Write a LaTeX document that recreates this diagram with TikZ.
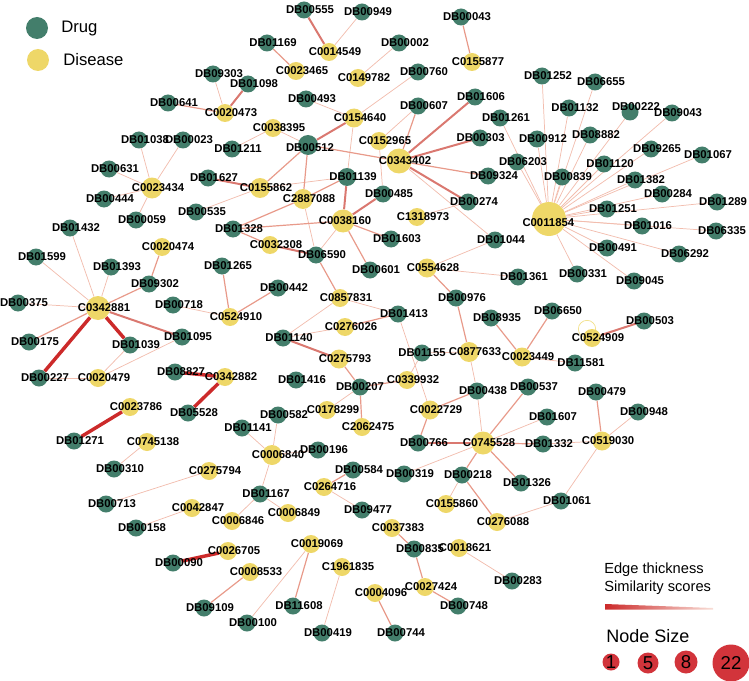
\documentclass[tikz,border=0pt]{standalone}
\usepackage{fontspec}
\setmainfont{Liberation Sans}
\setsansfont{Liberation Sans}
\usetikzlibrary{positioning,backgrounds}
\definecolor{drugc}{HTML}{437E6B}
\definecolor{disc}{HTML}{EED768}
\definecolor{edgelt}{HTML}{F2BDAE}
\definecolor{edgemd}{HTML}{E89A8A}
\definecolor{edgedk}{HTML}{DA7870}
\definecolor{edgered}{HTML}{CC2A2A}
\definecolor{sizec}{HTML}{D2343B}
\begin{document}
\begin{tikzpicture}[x=0.75pt, y=-0.75pt,
  drug/.style={circle, fill=drugc, inner sep=0pt, minimum size=12.75pt},
  dis/.style={circle, fill=disc, inner sep=0pt, minimum size=13.5pt},
  lbl/.style={font=\sffamily\bfseries\fontsize{8.5}{9}\selectfont, inner sep=0pt, xshift=4.5pt},
  legtxt/.style={font=\sffamily\fontsize{12.5}{14}\selectfont, inner sep=0pt, anchor=west},
  keytxt/.style={font=\sffamily\fontsize{11}{13}\selectfont, inner sep=0pt, anchor=west},
  sizenode/.style={circle, fill=sizec, inner sep=0pt, font=\sffamily\fontsize{14}{14}\selectfont},
  sim1/.style={draw=edgelt, line width=0.55pt},
  sim2/.style={draw=edgemd, line width=0.9pt},
  sim3/.style={draw=edgedk, line width=1.5pt},
  sim4/.style={draw=edgered, line width=2.6pt},
  selfloop/.style={draw=disc!80, line width=0.5pt}]
\useasboundingbox (0,0) rectangle (749,681);
% legend
\node[drug, minimum size=16.5pt] (legdrug) at (37,28) {};
\node[legtxt] (legdrugtxt) at (61,28) {Drug};
\node[dis, minimum size=16.5pt] (legdis) at (38,60) {};
\node[legtxt] (legdistxt) at (63,60) {Disease};
% drugs
\node[drug, label={[lbl]center:DB09303}] (DB09303) at (213,74) {};
\node[drug, label={[lbl]center:DB00641}] (DB00641) at (168,103) {};
\node[drug, label={[lbl]center:DB01038}] (DB01038) at (139,140) {};
\node[drug, label={[lbl]center:DB00023}] (DB00023) at (183,140) {};
\node[drug, label={[lbl]center:DB00631}] (DB00631) at (109,169) {};
\node[drug, label={[lbl]center:DB00444}] (DB00444) at (104,199) {};
\node[drug, label={[lbl]center:DB00059}] (DB00059) at (136,220) {};
\node[drug, label={[lbl]center:DB01098}] (DB01098) at (248,84) {};
\node[drug, label={[lbl]center:DB01211}] (DB01211) at (232,149) {};
\node[drug, label={[lbl]center:DB01627}] (DB01627) at (208,178) {};
\node[drug, label={[lbl]center:DB00535}] (DB00535) at (196,212) {};
\node[drug, label={[lbl]center:DB01432}] (DB01432) at (70,228) {};
\node[drug, label={[lbl]center:DB01328}] (DB01328) at (233,229) {};
\node[drug, label={[lbl]center:DB00555}] (DB00555) at (304,10) {};
\node[drug, label={[lbl]center:DB00949}] (DB00949) at (362,12) {};
\node[drug, label={[lbl]center:DB00043}] (DB00043) at (461,17) {};
\node[drug, label={[lbl]center:DB01169}] (DB01169) at (267,43) {};
\node[drug, label={[lbl]center:DB00002}] (DB00002) at (399,43) {};
\node[drug, label={[lbl]center:DB00760}] (DB00760) at (418,72) {};
\node[drug, label={[lbl]center:DB00493}] (DB00493) at (306,99) {};
\node[drug, label={[lbl]center:DB00607}] (DB00607) at (418,106) {};
\node[drug, label={[lbl]center:DB01606}] (DB01606) at (475,97) {};
\node[drug, minimum size=15pt, label={[lbl, xshift=-3pt, yshift=-2pt]center:DB00512}] (DB00512) at (308,145) {};
\node[drug, label={[lbl, xshift=-4pt]center:DB00303}] (DB00303) at (480,138) {};
\node[drug, label={[lbl]center:DB09324}] (DB09324) at (488,176) {};
\node[drug, minimum size=13.5pt, label={[lbl]center:DB01139}] (DB01139) at (347,177) {};
\node[drug, label={[lbl]center:DB00485}] (DB00485) at (383,194) {};
\node[drug, label={[lbl]center:DB00274}] (DB00274) at (468,202) {};
\node[drug, label={[lbl]center:DB06590}] (DB06590) at (316,255) {};
\node[drug, label={[lbl]center:DB00601}] (DB00601) at (370,270) {};
\node[drug, label={[lbl]center:DB01603}] (DB01603) at (391,239) {};
\node[drug, label={[lbl]center:DB01265}] (DB01265) at (222,266) {};
\node[drug, label={[lbl]center:DB00442}] (DB00442) at (278,288) {};
\node[drug, label={[lbl]center:DB01599}] (DB01599) at (36,257) {};
\node[drug, label={[lbl]center:DB01393}] (DB01393) at (111,267) {};
\node[drug, label={[lbl]center:DB09302}] (DB09302) at (149,284) {};
\node[drug, label={[lbl]center:DB00375}] (DB00375) at (18,303) {};
\node[drug, label={[lbl]center:DB00718}] (DB00718) at (173,305) {};
\node[drug, label={[lbl]center:DB00175}] (DB00175) at (29,342) {};
\node[drug, label={[lbl]center:DB01039}] (DB01039) at (130,345) {};
\node[drug, label={[lbl]center:DB01095}] (DB01095) at (182,337) {};
\node[drug, label={[lbl]center:DB00227}] (DB00227) at (39,378) {};
\node[drug, label={[lbl]center:DB08827}] (DB08827) at (175,372) {};
\node[drug, label={[lbl]center:DB05528}] (DB05528) at (188,413) {};
\node[drug, label={[lbl]center:DB01271}] (DB01271) at (74,441) {};
\node[drug, label={[lbl]center:DB01141}] (DB01141) at (242,428) {};
\node[drug, label={[lbl]center:DB00582}] (DB00582) at (278,415) {};
\node[drug, label={[lbl]center:DB00976}] (DB00976) at (456,298) {};
\node[drug, label={[lbl]center:DB01413}] (DB01413) at (398,314) {};
\node[drug, label={[lbl]center:DB01140}] (DB01140) at (283,338) {};
\node[drug, label={[lbl]center:DB08935}] (DB08935) at (491,318) {};
\node[drug, label={[lbl, xshift=-4.5pt]center:DB01155}] (DB01155) at (422,353) {};
\node[drug, label={[lbl]center:DB01416}] (DB01416) at (296,380) {};
\node[drug, label={[lbl, xshift=-4.5pt]center:DB00207}] (DB00207) at (360,387) {};
\node[drug, label={[lbl]center:DB00438}] (DB00438) at (477,391) {};
\node[drug, label={[lbl]center:DB00537}] (DB00537) at (528,387) {};
\node[drug, label={[lbl]center:DB00766}] (DB00766) at (418,443) {};
\node[drug, label={[lbl]center:DB00196}] (DB00196) at (318,450) {};
\node[drug, label={[lbl]center:DB01607}] (DB01607) at (547,417) {};
\node[drug, label={[lbl]center:DB01332}] (DB01332) at (543,444) {};
\node[drug, label={[lbl]center:DB00479}] (DB00479) at (596,392) {};
\node[drug, label={[lbl]center:DB00948}] (DB00948) at (638,412) {};
\node[drug, label={[lbl]center:DB00319}] (DB00319) at (404,474) {};
\node[drug, label={[lbl]center:DB00218}] (DB00218) at (462,475) {};
\node[drug, label={[lbl]center:DB01326}] (DB01326) at (521,483) {};
\node[drug, label={[lbl]center:DB06650}] (DB06650) at (552,311) {};
\node[drug, label={[lbl]center:DB00503}] (DB00503) at (644,321) {};
\node[drug, label={[lbl]center:DB11581}] (DB11581) at (575,363) {};
\node[drug, label={[lbl]center:DB01361}] (DB01361) at (518,277) {};
\node[drug, label={[lbl]center:DB00331}] (DB00331) at (577,274) {};
\node[drug, label={[lbl]center:DB09045}] (DB09045) at (634,281) {};
\node[drug, label={[lbl]center:DB00491}] (DB00491) at (607,248) {};
\node[drug, label={[lbl]center:DB06292}] (DB06292) at (679,254) {};
\node[drug, label={[lbl]center:DB06335}] (DB06335) at (716,231) {};
\node[drug, label={[lbl]center:DB01044}] (DB01044) at (495,240) {};
\node[drug, label={[lbl]center:DB01252}] (DB01252) at (542,76) {};
\node[drug, label={[lbl]center:DB06655}] (DB06655) at (595,82) {};
\node[drug, label={[lbl]center:DB01132}] (DB01132) at (569,108) {};
\node[drug, label={[lbl, yshift=4pt]center:DB00222}] (DB00222) at (630,112) {};
\node[drug, label={[lbl]center:DB09043}] (DB09043) at (672,113) {};
\node[drug, label={[lbl]center:DB00912}] (DB00912) at (537,139) {};
\node[drug, label={[lbl]center:DB08882}] (DB08882) at (590,135) {};
\node[drug, label={[lbl]center:DB01120}] (DB01120) at (604,164) {};
\node[drug, label={[lbl]center:DB09265}] (DB09265) at (651,149) {};
\node[drug, label={[lbl]center:DB01067}] (DB01067) at (702,155) {};
\node[drug, label={[lbl]center:DB06203}] (DB06203) at (517,162) {};
\node[drug, label={[lbl]center:DB01261}] (DB01261) at (500,118) {};
\node[drug, label={[lbl]center:DB00839}] (DB00839) at (562,177) {};
\node[drug, label={[lbl]center:DB01382}] (DB01382) at (635,180) {};
\node[drug, label={[lbl]center:DB00284}] (DB00284) at (662,194) {};
\node[drug, label={[lbl]center:DB01289}] (DB01289) at (717,202) {};
\node[drug, label={[lbl]center:DB01251}] (DB01251) at (607,209) {};
\node[drug, label={[lbl]center:DB01016}] (DB01016) at (642,226) {};
\node[drug, label={[lbl]center:DB00584}] (DB00584) at (353,470) {};
\node[drug, label={[lbl]center:DB09477}] (DB09477) at (362,510) {};
\node[drug, label={[lbl]center:DB01167}] (DB01167) at (260,494) {};
\node[drug, label={[lbl]center:DB00310}] (DB00310) at (114,469) {};
\node[drug, label={[lbl]center:DB00713}] (DB00713) at (106,504) {};
\node[drug, label={[lbl]center:DB00158}] (DB00158) at (136,528) {};
\node[drug, label={[lbl]center:DB00090}] (DB00090) at (173,563) {};
\node[drug, label={[lbl]center:DB09109}] (DB09109) at (204,608) {};
\node[drug, label={[lbl]center:DB00100}] (DB00100) at (247,623) {};
\node[drug, label={[lbl]center:DB11608}] (DB11608) at (293,606) {};
\node[drug, label={[lbl]center:DB00419}] (DB00419) at (322,633) {};
\node[drug, label={[lbl]center:DB00835}] (DB00835) at (414,549) {};
\node[drug, label={[lbl]center:DB00748}] (DB00748) at (458,606) {};
\node[drug, label={[lbl]center:DB00744}] (DB00744) at (395,633) {};
\node[drug, label={[lbl]center:DB01061}] (DB01061) at (561,501) {};
\node[drug, label={[lbl]center:DB00283}] (DB00283) at (512,581) {};
% diseases
\node[dis, label={[lbl]center:C0020473}] (C0020473) at (225,113) {};
\node[dis, minimum size=15.75pt, label={[lbl]center:C0023434}] (C0023434) at (152,188) {};
\node[dis, label={[lbl]center:C0014549}] (C0014549) at (329,52) {};
\node[dis, label={[lbl]center:C0155877}] (C0155877) at (472,62) {};
\node[dis, label={[lbl]center:C0023465}] (C0023465) at (296,71) {};
\node[dis, label={[lbl]center:C0149782}] (C0149782) at (358,78) {};
\node[dis, minimum size=14.25pt, label={[lbl]center:C0154640}] (C0154640) at (354,118) {};
\node[dis, label={[lbl]center:C0038395}] (C0038395) at (273,128) {};
\node[dis, label={[lbl]center:C0152965}] (C0152965) at (379,141) {};
\node[dis, minimum size=18.75pt, label={[lbl]center:C0343402}] (C0343402) at (399,161) {};
\node[dis, minimum size=15pt, label={[lbl]center:C2887088}] (C2887088) at (303,199) {};
\node[dis, minimum size=15pt, label={[lbl]center:C0155862}] (C0155862) at (260,188) {};
\node[dis, minimum size=17.25pt, label={[lbl, xshift=-3pt]center:C0038160}] (C0038160) at (343,221) {};
\node[dis, label={[lbl]center:C1318973}] (C1318973) at (417,217) {};
\node[dis, label={[lbl]center:C0032308}] (C0032308) at (270,245) {};
\node[dis, label={[lbl]center:C0020474}] (C0020474) at (162,247) {};
\node[dis, minimum size=18pt, label={[lbl]center:C0342881}] (C0342881) at (98,308) {};
\node[dis, label={[lbl]center:C0524910}] (C0524910) at (230,317) {};
\node[dis, label={[lbl]center:C0020479}] (C0020479) at (98,378) {};
\node[dis, label={[lbl]center:C0342882}] (C0342882) at (225,377) {};
\node[dis, label={[lbl]center:C0023786}] (C0023786) at (130,407) {};
\node[dis, label={[lbl]center:C0745138}] (C0745138) at (147,442) {};
\node[dis, minimum size=14.25pt, label={[lbl]center:C0554628}] (C0554628) at (427,268) {};
\node[dis, label={[lbl]center:C0857831}] (C0857831) at (340,298) {};
\node[dis, label={[lbl]center:C0276026}] (C0276026) at (345,327) {};
\node[dis, minimum size=15pt, label={[lbl]center:C0877633}] (C0877633) at (469,352) {};
\node[dis, minimum size=14.25pt, label={[lbl]center:C0275793}] (C0275793) at (339,359) {};
\node[dis, label={[lbl]center:C0339932}] (C0339932) at (407,380) {};
\node[dis, minimum size=14.25pt, label={[lbl]center:C0022729}] (C0022729) at (430,410) {};
\node[dis, label={[lbl]center:C0178299}] (C0178299) at (327,410) {};
\node[dis, label={[lbl]center:C2062475}] (C2062475) at (362,427) {};
\node[dis, minimum size=17.25pt, label={[lbl]center:C0745528}] (C0745528) at (483,443) {};
\node[dis, minimum size=15pt, label={[lbl]center:C0006840}] (C0006840) at (272,455) {};
\node[dis, minimum size=14.25pt, label={[lbl]center:C0519030}] (C0519030) at (602,441) {};
\node[dis, label={[lbl]center:C0524909}] (C0524909) at (592,338) {};
\node[dis, minimum size=14.25pt, label={[lbl]center:C0023449}] (C0023449) at (522,357) {};
\node[dis, minimum size=25.5pt, label={[lbl, xshift=-5pt, yshift=-3pt]center:C0011854}] (C0011854) at (549,219) {};
\node[dis, label={[lbl]center:C0264716}] (C0264716) at (324,487) {};
\node[dis, label={[lbl]center:C0006849}] (C0006849) at (288,513) {};
\node[dis, label={[lbl]center:C0006846}] (C0006846) at (232,521) {};
\node[dis, label={[lbl]center:C0042847}] (C0042847) at (192,508) {};
\node[dis, label={[lbl]center:C0275794}] (C0275794) at (209,471) {};
\node[dis, label={[lbl]center:C0026705}] (C0026705) at (228,551) {};
\node[dis, label={[lbl]center:C0008533}] (C0008533) at (250,572) {};
\node[dis, label={[lbl]center:C0019069}] (C0019069) at (311,544) {};
\node[dis, label={[lbl]center:C1961835}] (C1961835) at (342,567) {};
\node[dis, label={[lbl]center:C0037383}] (C0037383) at (392,528) {};
\node[dis, label={[lbl]center:C0018621}] (C0018621) at (459,548) {};
\node[dis, label={[lbl]center:C0004096}] (C0004096) at (375,593) {};
\node[dis, label={[lbl]center:C0027424}] (C0027424) at (425,587) {};
\node[dis, label={[lbl]center:C0155860}] (C0155860) at (446,504) {};
\node[dis, label={[lbl]center:C0276088}] (C0276088) at (497,522) {};
% edges
\begin{scope}[on background layer]
\draw[sim1] (DB09303) -- (C0020473);
\draw[sim1] (DB00949) -- (C0014549);
\draw[sim1] (DB00002) -- (C0149782);
\draw[sim1] (DB00760) -- (C0154640);
\draw[sim1] (DB00493) -- (C0154640);
\draw[sim1] (C0154640) -- (DB01139);
\draw[sim1] (C0038395) -- (DB00512);
\draw[sim1] (C0038395) -- (DB01211);
\draw[sim1] (C0152965) -- (DB00607);
\draw[sim1] (C0152965) -- (DB00485);
\draw[sim1] (C0343402) -- (DB01044);
\draw[sim1] (C1318973) -- (DB00274);
\draw[sim1] (C0038160) -- (DB06590);
\draw[sim1] (C2887088) -- (DB06590);
\draw[sim1] (C0155862) -- (DB00535);
\draw[sim1] (C0155862) -- (DB01139);
\draw[sim1] (C0554628) -- (DB01361);
\draw[sim1] (C0554628) -- (DB01044);
\draw[sim1] (C0877633) -- (DB00438);
\draw[sim1] (C0877633) -- (DB01155);
\draw[sim1] (C0857831) -- (DB01413);
\draw[sim1] (C0857831) -- (DB01140);
\draw[sim1] (DB01140) -- (C0276026);
\draw[sim1] (DB01413) -- (C0022729);
\draw[sim1] (DB01155) -- (C0339932);
\draw[sim1] (DB00207) -- (C0178299);
\draw[sim1] (DB00438) -- (C0745528);
\draw[sim1] (DB01607) -- (C0745528);
\draw[sim1] (DB00319) -- (C0745528);
\draw[sim1] (DB00218) -- (C0155860);
\draw[sim1] (C0276088) -- (DB01061);
\draw[sim1] (DB01061) -- (C0519030);
\draw[sim1] (C0519030) -- (DB00948);
\draw[sim1] (C0519030) -- (DB01332);
\draw[sim1] (C0023449) -- (DB11581);
\draw[sim1] (C0023434) -- (DB01038);
\draw[sim1] (C0023434) -- (DB00023);
\draw[sim1] (C0023434) -- (DB00631);
\draw[sim1] (C0023434) -- (DB00444);
\draw[sim1] (C0023434) -- (DB00059);
\draw[sim1] (C0342881) -- (DB01432);
\draw[sim1] (C0342881) -- (DB01599);
\draw[sim1] (C0342881) -- (DB01393);
\draw[sim1] (C0342881) -- (DB00375);
\draw[sim1] (DB00227) -- (C0020479);
\draw[sim1] (C0020479) -- (DB01039);
\draw[sim1] (C0020479) -- (DB01095);
\draw[sim1] (C0745138) -- (DB00310);
\draw[sim1] (DB00718) -- (C0524910);
\draw[sim1] (C0006840) -- (DB01141);
\draw[sim1] (C0006840) -- (DB00582);
\draw[sim1] (C0006840) -- (DB00196);
\draw[sim1] (C0006840) -- (DB01167);
\draw[sim1] (DB01167) -- (C0006846);
\draw[sim1] (DB01167) -- (C0006849);
\draw[sim1] (C0275794) -- (DB00713);
\draw[sim1] (C0042847) -- (DB00158);
\draw[sim1] (C0019069) -- (DB00100);
\draw[sim1] (C1961835) -- (DB00419);
\draw[sim1] (C0264716) -- (DB09477);
\draw[sim1] (C0018621) -- (DB00283);
\draw[sim1] (C0011854) -- (DB01261);
\draw[sim1] (C0011854) -- (DB06203);
\draw[sim1] (C0011854) -- (DB00912);
\draw[sim1] (C0011854) -- (DB01252);
\draw[sim1] (C0011854) -- (DB00839);
\draw[sim1] (C0011854) -- (DB01132);
\draw[sim1] (C0011854) -- (DB06655);
\draw[sim1] (C0011854) -- (DB08882);
\draw[sim1] (C0011854) -- (DB01120);
\draw[sim1] (C0011854) -- (DB00222);
\draw[sim1] (C0011854) -- (DB09043);
\draw[sim1] (C0011854) -- (DB09265);
\draw[sim1] (C0011854) -- (DB01067);
\draw[sim1] (C0011854) -- (DB01382);
\draw[sim1] (C0011854) -- (DB00284);
\draw[sim1] (C0011854) -- (DB01289);
\draw[sim1] (C0011854) -- (DB01251);
\draw[sim1] (C0011854) -- (DB01016);
\draw[sim1] (C0011854) -- (DB06335);
\draw[sim1] (C0011854) -- (DB06292);
\draw[sim1] (C0011854) -- (DB00491);
\draw[sim1] (C0011854) -- (DB09045);
\draw[sim1] (C0011854) -- (DB00331);
\draw[sim2] (DB00641) -- (C0020473);
\draw[sim2] (DB01169) -- (C0023465);
\draw[sim2] (DB00043) -- (C0155877);
\draw[sim2] (DB00607) -- (C0343402);
\draw[sim2] (C0343402) -- (DB09324);
\draw[sim2] (DB00512) -- (C0343402);
\draw[sim2] (DB00512) -- (C2887088);
\draw[sim2] (DB00512) -- (C0155862);
\draw[sim2] (C0038160) -- (DB01328);
\draw[sim2] (C0038160) -- (DB00601);
\draw[sim2] (C0038160) -- (DB01603);
\draw[sim2] (C2887088) -- (DB01328);
\draw[sim2] (C2887088) -- (DB01139);
\draw[sim2] (DB01328) -- (C0032308);
\draw[sim2] (DB06590) -- (C0857831);
\draw[sim2] (C0554628) -- (DB00976);
\draw[sim2] (DB00976) -- (C0877633);
\draw[sim2] (DB01413) -- (C0276026);
\draw[sim2] (C0275793) -- (DB00207);
\draw[sim2] (C0339932) -- (DB00207);
\draw[sim2] (DB00207) -- (C2062475);
\draw[sim2] (C0022729) -- (DB00438);
\draw[sim2] (C0022729) -- (DB00766);
\draw[sim2] (DB00537) -- (C0745528);
\draw[sim2] (DB01332) -- (C0745528);
\draw[sim2] (DB01326) -- (C0745528);
\draw[sim2] (DB00218) -- (C0745528);
\draw[sim2] (DB00218) -- (C0276088);
\draw[sim2] (C0519030) -- (DB00479);
\draw[sim2] (C0023449) -- (DB08935);
\draw[sim2] (C0023449) -- (DB06650);
\draw[sim2] (C0342881) -- (DB09302);
\draw[sim2] (C0342881) -- (DB00175);
\draw[sim2] (DB09302) -- (C0020474);
\draw[sim2] (DB01265) -- (C0524910);
\draw[sim2] (C0524910) -- (DB00442);
\draw[sim2] (C0008533) -- (DB09109);
\draw[sim2] (C0019069) -- (DB11608);
\draw[sim2] (C0264716) -- (DB00584);
\draw[sim2] (C0037383) -- (DB00835);
\draw[sim2] (DB00835) -- (C0027424);
\draw[sim2] (C0027424) -- (DB00748);
\draw[sim2] (C0004096) -- (DB00744);
\draw[sim3] (C0020473) -- (DB01098);
\draw[sim3] (DB00555) -- (C0014549);
\draw[sim3] (C0154640) -- (DB00512);
\draw[sim3] (DB01606) -- (C0343402);
\draw[sim3] (DB00303) -- (C0343402);
\draw[sim3] (C0343402) -- (DB00274);
\draw[sim3] (C0038160) -- (DB01139);
\draw[sim3] (C0038160) -- (DB00485);
\draw[sim3] (C0032308) -- (DB06590);
\draw[sim3] (C0155862) -- (DB01627);
\draw[sim3] (DB01140) -- (C0275793);
\draw[sim3] (DB00766) -- (C0745528);
\draw[sim3] (C0342881) -- (DB01095);
\draw[sim3] (C0524909) -- (DB00503);
\draw[sim4] (C0342881) -- (DB00227);
\draw[sim4] (C0342881) -- (DB01039);
\draw[sim4] (DB08827) -- (C0342882);
\draw[sim4] (C0342882) -- (DB05528);
\draw[sim4] (C0023786) -- (DB01271);
\draw[sim4] (C0026705) -- (DB00090);
\draw[selfloop] ([shift={(-5,-9)}]C0524909.center) circle[radius=6.5pt];
\end{scope}
% key
\node[keytxt] (edgekey) at (604,570) {Edge thickness};
\node[keytxt] (simkey) at (604,588) {Similarity scores};
\shade[left color=edgered, right color=edgelt!50] (605,604) -- (713,608) -- (713,609.5) -- (605,609.5) -- cycle;
\node[keytxt, font=\sffamily\fontsize{13.5}{15}\selectfont] (sizekey) at (606,636) {Node Size};
\node[sizenode, minimum size=12.75pt] (size1) at (611,662) {1};
\node[sizenode, minimum size=15.75pt] (size5) at (648,663) {5};
\node[sizenode, minimum size=17.25pt] (size8) at (686,662) {8};
\node[sizenode, minimum size=27.75pt] (size22) at (731,663) {22};
\end{tikzpicture}
\end{document}
